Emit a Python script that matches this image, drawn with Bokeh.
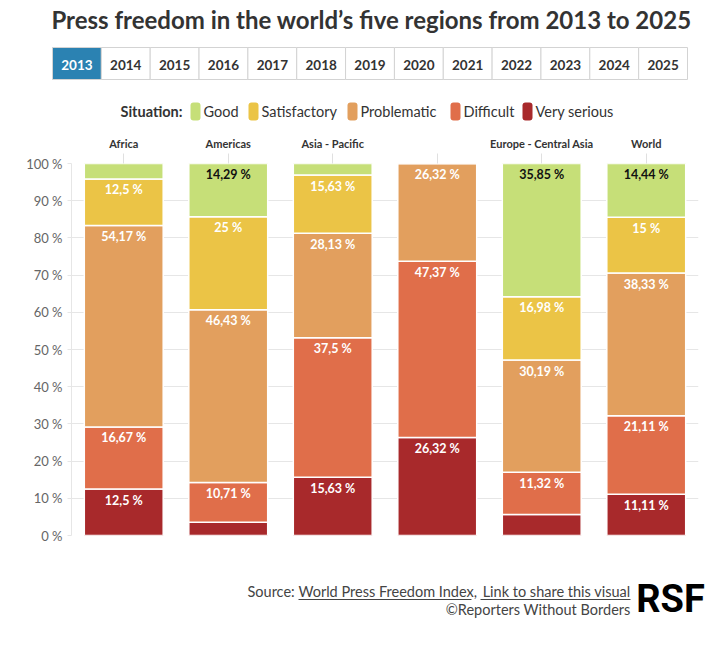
from bokeh.plotting import figure
from bokeh.models import ColumnDataSource, FactorRange, Range1d, FixedTicker, CustomJSTickFormatter
from bokeh.layouts import column
from bokeh.embed import file_html
from bokeh.resources import INLINE
from bokeh.core.properties import value

# ---------------- data ----------------
title = "Press freedom in the world\u2019s five regions from 2013 to 2025"
years = ["2013", "2014", "2015", "2016", "2017", "2018", "2019",
         "2020", "2021", "2022", "2023", "2024", "2025"]
selected_year = "2013"
regions = ["Africa", "Americas", "Asia - Pacific", "Middle East - North Africa",
           "Europe - Central Asia", "World"]
hidden_region_labels = ["Middle East - North Africa"]
situations = ["Very serious", "Difficult", "Problematic", "Satisfactory", "Good"]
legend_order = ["Good", "Satisfactory", "Problematic", "Difficult", "Very serious"]
very_serious = [12.5, 3.57, 15.63, 26.32, 5.66, 11.11]
difficult = [16.67, 10.71, 37.5, 47.37, 11.32, 21.11]
problematic = [54.17, 46.43, 28.13, 26.32, 30.19, 38.33]
satisfactory = [12.5, 25, 15.63, 0, 16.98, 15]
good = [4.17, 14.29, 3.13, 0, 35.85, 14.44]
y_ticks = [0, 10, 20, 30, 40, 50, 60, 70, 80, 90, 100]

colors = {"Good": "#c6df78", "Satisfactory": "#ebc446", "Problematic": "#e29f5e",
          "Difficult": "#e06e4a", "Very serious": "#a8292b"}
FONT = "Lato"
W = 724


def blank_fig(top, h):
    f = figure(frame_width=W, frame_height=h, x_range=Range1d(0, W), y_range=Range1d(top + h, top),
               output_backend="svg", toolbar_location=None, min_border=0, frame_align=False)
    f.axis.visible = False
    f.grid.visible = False
    f.outline_line_color = None
    return f


# ---------------- header ----------------
hdr = blank_fig(0, 132)
hdr.text(x=[371], y=[19], text=[title], text_font=value(FONT), text_font_style="bold",
         text_font_size="24px", text_color="#333333", text_align="center", text_baseline="middle")

bx0, bx1, by0, by1 = 52, 687, 47, 79
bw = (bx1 - bx0) / len(years)
lefts = [bx0 + i * bw for i in range(len(years))]
fills = ["#2b82b2" if y == selected_year else "white" for y in years]
tcols = ["white" if y == selected_year else "#333333" for y in years]
hdr.quad(left=lefts, right=[l + bw for l in lefts], top=[by0] * len(years), bottom=[by1] * len(years),
         fill_color=fills, line_color="#d3d3d3", line_width=1)
hdr.text(x=[l + bw / 2 for l in lefts], y=[(by0 + by1) / 2 + 1] * len(years), text=years,
         text_font=value(FONT), text_font_style="bold", text_font_size="13.5px",
         text_color=tcols, text_align="center", text_baseline="middle")

ly = 111
hdr.text(x=[182], y=[ly], text=["Situation:"], text_font=value(FONT), text_font_style="bold",
         text_font_size="14.5px", text_color="#333333", text_align="right", text_baseline="middle")
sq_x = [190, 248, 347, 450, 522]
hdr.quad(left=sq_x, right=[s + 10 for s in sq_x], top=[ly - 9] * 5, bottom=[ly + 9] * 5,
         fill_color=[colors[s] for s in legend_order], line_color=None, border_radius=3)
hdr.text(x=[s + 13 for s in sq_x], y=[ly] * 5, text=legend_order, text_font=value(FONT),
         text_font_size="14.5px", text_color="#333333", text_align="left", text_baseline="middle")

# ---------------- main chart ----------------
src = ColumnDataSource(dict(region=regions, **{"Very serious": very_serious, "Difficult": difficult,
                                               "Problematic": problematic, "Satisfactory": satisfactory,
                                               "Good": good}))
p = figure(frame_width=627, frame_height=372, x_range=FactorRange(*regions, range_padding=0),
           y_range=Range1d(0, 100), x_axis_location="above",
           output_backend="svg", toolbar_location=None, frame_align=False,
           min_border_left=71, min_border_right=26, min_border_top=31, min_border_bottom=10)
p.outline_line_color = None
p.xgrid.grid_line_color = None
p.ygrid.grid_line_color = "#e6e6e6"
p.ygrid.ticker = FixedTicker(ticks=y_ticks)

p.vbar_stack(situations, x="region", width=0.755, source=src,
             color=[colors[s] for s in situations], line_color="white", line_width=1.5)

lx, lyv, lt, lc = [], [], [], []
px_per_unit = 372 / 100
series = {"Very serious": very_serious, "Difficult": difficult, "Problematic": problematic,
          "Satisfactory": satisfactory, "Good": good}
for i, r in enumerate(regions):
    cum = 0
    for s in situations:
        v = series[s][i]
        cum += v
        if v >= 10:
            lx.append(r)
            lyv.append(min(cum, 100) - 3.5 / px_per_unit)
            txt = ("%.2f" % v).rstrip("0").rstrip(".").replace(".", ",") + " %"
            lt.append(txt)
            lc.append("#111111" if s == "Good" else "white")
p.text(x=lx, y=lyv, text=lt, text_color=lc, text_font=value(FONT), text_font_style="bold",
       text_font_size="12.5px", text_align="center", text_baseline="top")

xa = p.xaxis[0]
xa.axis_line_color = None
xa.major_tick_line_color = "#e0e0e0"
xa.major_tick_out = 10
xa.major_tick_in = 0
xa.major_label_standoff = 4
xa.major_label_text_font = FONT
xa.major_label_text_font_style = "bold"
xa.major_label_text_font_size = "11px"
xa.major_label_text_color = "#333333"
xa.formatter = CustomJSTickFormatter(args=dict(hidden=hidden_region_labels),
                                     code="return hidden.includes(tick) ? ' ' : tick;")

ya = p.yaxis[0]
ya.ticker = FixedTicker(ticks=y_ticks)
ya.major_label_overrides = {t: "%d %%" % t for t in y_ticks}
ya.axis_line_color = "#e6e6e6"
ya.major_tick_line_color = "#e6e6e6"
ya.major_tick_out = 4
ya.major_tick_in = 0
ya.minor_tick_line_color = None
ya.major_label_standoff = 5
ya.major_label_text_font = FONT
ya.major_label_text_font_size = "13px"
ya.major_label_text_color = "#666666"

# ---------------- footer ----------------
ft = blank_fig(545, 95)
fy1, fy2 = 591, 609
ft.text(x=[247], y=[fy1], text=["Source:"], text_font=value(FONT), text_font_size="14.5px",
        text_color="#444444", text_align="left", text_baseline="middle")
ft.text(x=[298], y=[fy1], text=["World Press Freedom Index,"], text_font=value(FONT),
        text_font_size="14.5px", text_color="#444444", text_align="left", text_baseline="middle")
ft.text(x=[630], y=[fy1], text=["Link to share this visual"], text_font=value(FONT),
        text_font_size="14.5px", text_color="#444444", text_align="right", text_baseline="middle")
ft.segment(x0=[298, 480], x1=[471, 630], y0=[fy1 + 8] * 2, y1=[fy1 + 8] * 2,
           line_color="#444444", line_width=1)
ft.text(x=[630], y=[fy2], text=["\u00a9Reporters Without Borders"], text_font=value(FONT),
        text_font_size="14.5px", text_color="#444444", text_align="right", text_baseline="middle")
ft.text(x=[670], y=[598], text=["RSF"], text_font=value("Roboto"), text_font_style="bold",
        text_font_size="38px", text_color="black", text_align="center", text_baseline="middle")

layout = column(hdr, p, ft, spacing=0)
open("out.html", "w").write(file_html(layout, INLINE))
